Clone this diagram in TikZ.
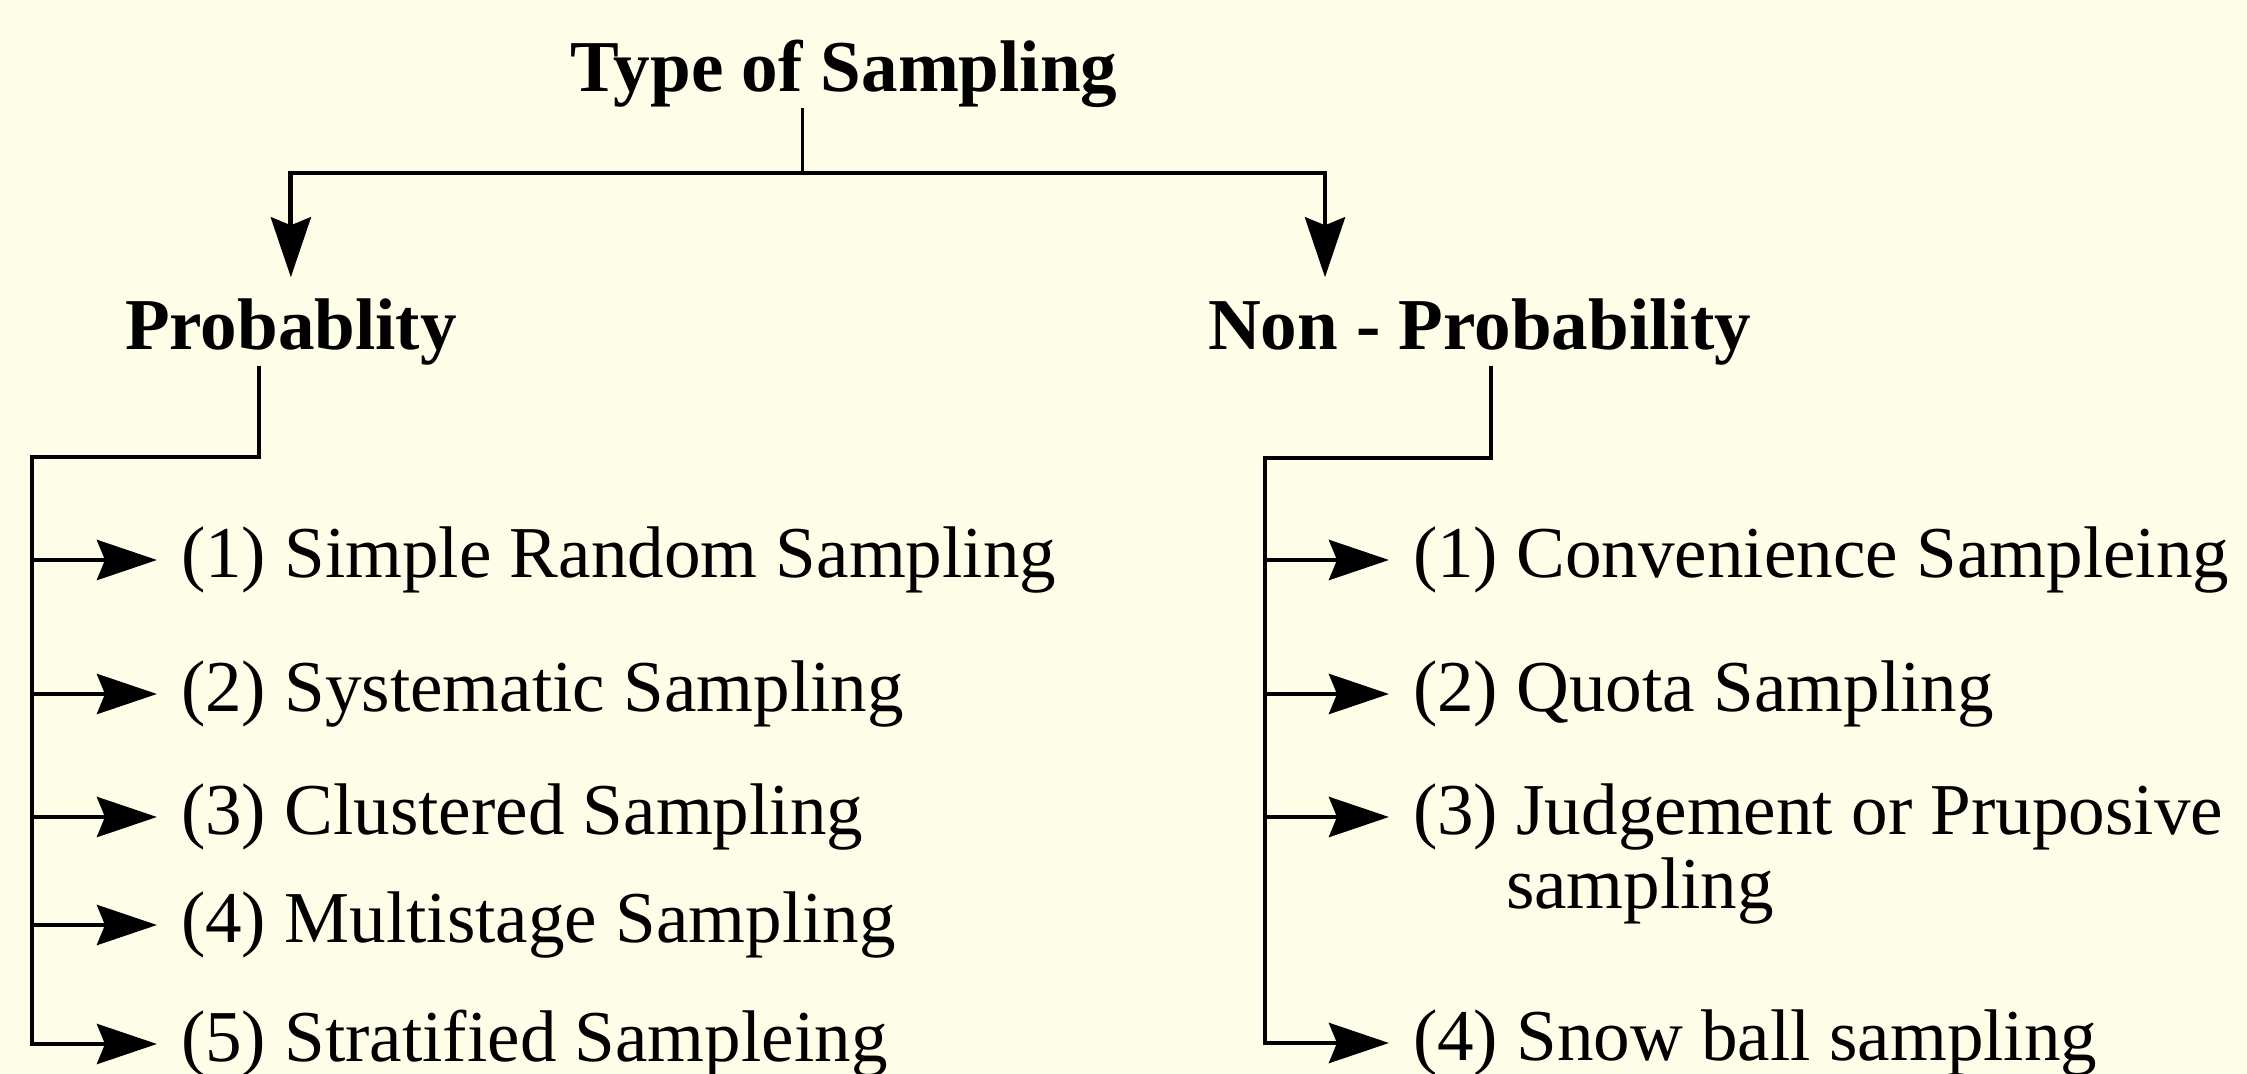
\documentclass[tikz,border=0pt]{standalone}
\usepackage{fontspec}
\setmainfont{Liberation Serif}
\usetikzlibrary{arrows.meta}
\definecolor{bgcream}{RGB}{254,253,232}
\tikzset{
  txt/.style={inner sep=0pt, outer sep=0pt, font=\fontsize{20.8}{25}\selectfont},
  head/.style={txt, font=\fontsize{20.8}{25}\selectfont\bfseries},
  item/.style={txt, anchor=west},
  conn/.style={line width=0.48mm, line join=miter},
  thin conn/.style={line width=0.3mm},
  arr/.style={conn, -{Stealth[length=6mm,width=4mm,inset=0.8mm]}},
  itemarr/.style={arr, shorten >=2.4mm},
  downarr/.style={arr, shorten >=2.2mm}
}
\begin{document}
\begin{tikzpicture}[x=0.1mm,y=-0.1mm]
\fill[bgcream] (0,0) rectangle (2247,1074);
\useasboundingbox (0,0) rectangle (2247,1074);

% headings
\node[head, anchor=base] (title) at (844,92) {Type of Sampling};
\node[head, anchor=base west] (prob) at (125,350) {Probablity};
\node[head, anchor=base west] (np) at (1208,350) {Non - Probability};

% junction coordinates
\coordinate (j0) at (802,173);
\coordinate (lTop) at (32,457);
\coordinate (rTop) at (1265,458);

% left items
\node[item] (l1) at (181,560) {(1) Simple Random Sampling};
\node[item] (l2) at (181,694) {(2) Systematic Sampling};
\node[item] (l3) at (181,817) {(3) Clustered Sampling};
\node[item] (l4) at (181,925) {(4) Multistage Sampling};
\node[item] (l5) at (181,1044) {(5) Stratified Sampleing};

% right items
\node[item] (r1) at (1413,560) {(1) Convenience Sampleing};
\node[item] (r2) at (1413,694) {(2) Quota Sampling};
\node[item] (r3) at (1413,817) {(3) Judgement or Pruposive};
\node[txt, anchor=base west] (r3b) at (1506,909) {sampling};
\node[item] (r4) at (1413,1043) {(4) Snow ball sampling};

% top level connectors
\draw[thin conn] (title.south -| j0) -- (j0);
\draw[downarr] (j0) -| (prob.north);
\draw[downarr] (j0) -| ([xshift=11.7mm]np.north west);

% left tree
\draw[itemarr] ([xshift=13.4mm]prob.south west) |- (lTop) |- (l5.west);
\foreach \n in {l1,l2,l3,l4}
  \draw[itemarr] (\n.west -| lTop) -- (\n.west);

% right tree
\draw[itemarr] ([xshift=28.3mm]np.south west) |- (rTop) |- (r4.west);
\foreach \n in {r1,r2,r3}
  \draw[itemarr] (\n.west -| rTop) -- (\n.west);
\end{tikzpicture}
\end{document}
